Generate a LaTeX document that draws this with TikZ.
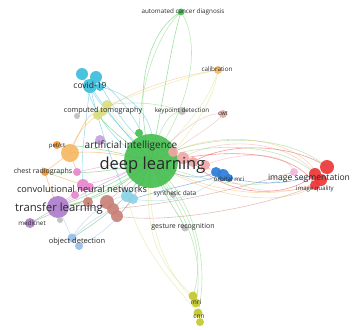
\documentclass[tikz,border=0pt]{standalone}
\usepackage{fontspec}
\setmainfont{Open Sans}
\definecolor{txt}{RGB}{40,40,40}
\definecolor{cG}{RGB}{70,190,80}
\definecolor{cGl}{RGB}{130,210,120}
\definecolor{cC}{RGB}{60,190,220}
\definecolor{cCl}{RGB}{140,210,232}
\definecolor{cY}{RGB}{218,222,130}
\definecolor{cO}{RGB}{245,150,50}
\definecolor{cOl}{RGB}{245,185,100}
\definecolor{cP}{RGB}{232,135,205}
\definecolor{cV}{RGB}{175,125,205}
\definecolor{cLB}{RGB}{150,190,235}
\definecolor{cBr}{RGB}{200,130,120}
\definecolor{cR}{RGB}{235,55,55}
\definecolor{cRl}{RGB}{242,165,165}
\definecolor{cB}{RGB}{45,125,215}
\definecolor{cGr}{RGB}{190,190,190}
\definecolor{cOl2}{RGB}{195,200,45}
\definecolor{cCw}{RGB}{225,170,160}
\begin{document}
\begin{tikzpicture}[x=1pt,y=-1pt,
  blob/.style={circle,fill=#1,inner sep=0pt,draw=none,opacity=0.92},
  lbl/.style={text=txt,inner sep=0pt,font=\fontsize{#1}{#1}\selectfont},
  e/.style={line width=0.6pt,opacity=0.5,draw=#1}]
\useasboundingbox (0,0) rectangle (352,329);
% centres
\coordinate (dl) at (151,161);
\coordinate (dlS) at (139,133);
\coordinate (ai) at (100,140);
\coordinate (cov1) at (82,74);
\coordinate (cov2) at (96,77);
\coordinate (cov3) at (90,86);
\coordinate (cov4) at (100,87);
\coordinate (ct1) at (107,105);
\coordinate (ct2) at (98,115);
\coordinate (ct3) at (103,112);
\coordinate (gy1) at (77,116);
\coordinate (kp) at (182,111);
\coordinate (cal) at (218,70);
\coordinate (cwt) at (223,114);
\coordinate (acd) at (181,12);
\coordinate (pet) at (57,145);
\coordinate (orb) at (70,153);
\coordinate (chest) at (45,172);
\coordinate (pk1) at (77,172);
\coordinate (pk2) at (83,185);
\coordinate (pk3) at (75,195);
\coordinate (pk4) at (90,187);
\coordinate (tl) at (58,207);
\coordinate (gy2) at (60,220);
\coordinate (med) at (30,223);
\coordinate (od1) at (72,238);
\coordinate (od2) at (79,246);
\coordinate (br1) at (88,202);
\coordinate (br2) at (107,202);
\coordinate (br3) at (113,209);
\coordinate (br4) at (117,216);
\coordinate (lb1) at (127,196);
\coordinate (lb2) at (133,199);
\coordinate (rp1) at (173,152);
\coordinate (rp2) at (183,158);
\coordinate (rp3) at (193,162);
\coordinate (rp4) at (205,165);
\coordinate (ob1) at (216,172);
\coordinate (ob2) at (223,175);
\coordinate (ob3) at (229,178);
\coordinate (sg1) at (327,167);
\coordinate (sg2) at (315,174);
\coordinate (sg3) at (321,180);
\coordinate (sg4) at (315,185);
\coordinate (sgp) at (294,172);
\coordinate (syn) at (173,195);
\coordinate (ges) at (185,228);
\coordinate (m1) at (193,296);
\coordinate (m2) at (196,303);
\coordinate (c1) at (198,313);
\coordinate (c2) at (200,322);
% edges
\draw[e=cG] (dl) .. controls (132,90) and (148,30) .. (acd);
\draw[e=cG] (dl) .. controls (165,90) and (172,40) .. (acd);
\draw[e=cGl] (dl) .. controls (195,100) and (200,40) .. (acd);
\draw[e=cGl] (dlS) .. controls (140,80) and (160,30) .. (acd);
\draw[e=cY] (dl) .. controls (190,125) and (212,95) .. (cal);
\draw[e=cY] (rp1) .. controls (200,120) and (215,95) .. (cal);
\draw[e=cY] (ct1) .. controls (150,90) and (190,75) .. (cal);
\draw[e=cCw] (rp1) .. controls (195,135) and (215,125) .. (cwt);
\draw[e=cCw] (dl) .. controls (190,120) and (210,112) .. (cwt);
\draw[e=cGl] (dl) .. controls (160,125) and (170,112) .. (kp);
\draw[e=cGl] (ct1) .. controls (140,100) and (165,105) .. (kp);
\draw[e=cC] (cov3) .. controls (110,115) and (130,140) .. (dl);
\draw[e=cC] (cov2) .. controls (125,100) and (145,130) .. (dl);
\draw[e=cC] (cov4) .. controls (140,95) and (160,130) .. (dl);
\draw[e=cC] (cov1) .. controls (95,120) and (120,150) .. (dl);
\draw[e=cC] (cov1) .. controls (100,110) and (130,135) .. (dl);
\draw[e=cC] (cov3) .. controls (100,130) and (115,170) .. (lb1);
\draw[e=cC] (cov2) .. controls (120,120) and (140,150) .. (rp1);
\draw[e=cC] (cov3) .. controls (85,130) and (80,160) .. (pk2);
\draw[e=cG] (ct2) .. controls (110,130) and (130,145) .. (dl);
\draw[e=cY] (ct1) .. controls (120,125) and (135,140) .. (dl);
\draw[e=cOl] (orb) .. controls (80,110) and (150,80) .. (cal);
\draw[e=cO] (orb) -- (pet);
\draw[e=cO] (orb) -- (chest);
\draw[e=cO] (orb) -- (pk1);
\draw[e=cO] (orb) .. controls (100,150) and (120,155) .. (dl);
\draw[e=cO] (chest) -- (pk2);
\draw[e=cO] (chest) .. controls (50,190) and (55,200) .. (tl);
\draw[e=cO] (orb) .. controls (85,120) and (90,110) .. (ct2);
\draw[e=cG] (dl) .. controls (110,150) and (80,145) .. (pet);
\draw[e=cG] (dl) .. controls (120,170) and (90,175) .. (chest);
\draw[e=cG] (dl) .. controls (120,180) and (90,195) .. (tl);
\draw[e=cG] (dl) .. controls (125,185) and (100,200) .. (tl);
\draw[e=cG] (dl) .. controls (130,200) and (100,220) .. (od1);
\draw[e=cG] (dl) .. controls (120,190) and (70,205) .. (med);
\draw[e=cP] (pk2) .. controls (110,180) and (130,170) .. (dl);
\draw[e=cP] (pk1) .. controls (110,165) and (130,160) .. (dl);
\draw[e=cP] (pk2) -- (tl);
\draw[e=cP] (pk3) -- (tl);
\draw[e=cP] (pk2) -- (br1);
\draw[e=cV] (tl) -- (med);
\draw[e=cV] (tl) -- (gy2);
\draw[e=cV] (tl) .. controls (90,215) and (110,200) .. (br2);
\draw[e=cV] (tl) .. controls (90,190) and (120,175) .. (dl);
\draw[e=cLB] (od1) .. controls (90,220) and (110,210) .. (br3);
\draw[e=cLB] (od1) .. controls (85,215) and (115,195) .. (lb1);
\draw[e=cLB] (od1) -- (tl);
\draw[e=cLB] (od2) .. controls (110,230) and (130,210) .. (dl);
\draw[e=cBr] (br2) .. controls (120,190) and (135,180) .. (dl);
\draw[e=cBr] (br4) .. controls (130,205) and (140,190) .. (dl);
\draw[e=cBr] (br1) -- (tl);
\draw[e=cBr] (br3) .. controls (150,205) and (200,200) .. (sgp);
\draw[e=cCl] (lb1) -- (dl);
\draw[e=cCl] (lb2) .. controls (170,205) and (200,195) .. (ob2);
\draw[e=cB] (dl) .. controls (180,180) and (200,180) .. (ob1);
\draw[e=cB] (ob2) .. controls (190,185) and (160,190) .. (lb2);
% image segmentation arcs
\draw[e=cRl] (rp2) .. controls (220,135) and (290,140) .. (sg2);
\draw[e=cR] (rp3) .. controls (230,140) and (295,145) .. (sg1);
\draw[e=cOl] (rp1) .. controls (220,130) and (300,135) .. (sg3);
\draw[e=cGl] (dl) .. controls (210,130) and (290,135) .. (sg1);
\draw[e=cGl] (dl) .. controls (215,138) and (285,145) .. (sg2);
\draw[e=cRl] (rp4) .. controls (250,148) and (290,155) .. (sgp);
\draw[e=cR] (rp2) .. controls (230,150) and (295,150) .. (sg4);
\draw[e=cOl] (dl) .. controls (220,205) and (290,205) .. (sg4);
\draw[e=cOl] (dl) .. controls (215,198) and (285,200) .. (sg3);
\draw[e=cR] (rp3) .. controls (230,200) and (290,198) .. (sg2);
\draw[e=cRl] (rp4) .. controls (240,195) and (285,195) .. (sg4);
\draw[e=cGl] (dl) .. controls (220,190) and (280,190) .. (sgp);
\draw[e=cBr] (br4) .. controls (170,225) and (270,205) .. (sg4);
\draw[e=cB] (ob3) .. controls (260,185) and (290,185) .. (sg2);
% lower
\draw[e=cG] (dl) .. controls (165,200) and (180,215) .. (ges);
\draw[e=cG] (dl) .. controls (160,185) and (170,195) .. (syn);
\draw[e=cGl] (dl) .. controls (180,200) and (210,240) .. (m1);
\draw[e=cGl] (dl) .. controls (195,200) and (210,260) .. (c1);
\draw[e=cY] (dl) .. controls (140,240) and (165,270) .. (m1);
\draw[e=cY] (dl) .. controls (145,245) and (175,280) .. (m2);
\draw[e=cY] (lb1) .. controls (140,250) and (175,285) .. (c1);
\draw[e=cGl] (dl) .. controls (185,215) and (205,250) .. (m2);
% nodes
\node[blob=cG,minimum size=54] (dlc) at (dl) {};
\node[blob=cG,minimum size=8] (dlsc) at (dlS) {};
\node[blob=cV!70,minimum size=10] (aic) at (ai) {};
\node[blob=cC,minimum size=12] (cov1c) at (cov1) {};
\node[blob=cC,minimum size=12] (cov2c) at (cov2) {};
\node[blob=cC,minimum size=14] (cov3c) at (cov3) {};
\node[blob=cC,minimum size=8] (cov4c) at (cov4) {};
\node[blob=cY,minimum size=10] (ct1c) at (ct1) {};
\node[blob=cY,minimum size=10] (ct2c) at (ct2) {};
\node[blob=cY,minimum size=8] (ct3c) at (ct3) {};
\node[blob=cGr,minimum size=6] (gy1c) at (gy1) {};
\node[blob=cGr,minimum size=8] (kpc) at (kp) {};
\node[blob=cOl,minimum size=8] (calc) at (cal) {};
\node[blob=cCw,minimum size=8] (cwtc) at (cwt) {};
\node[blob=cG,minimum size=7] (acdc) at (acd) {};
\node[blob=cO,minimum size=8] (petc) at (pet) {};
\node[blob=cOl,minimum size=18] (orbc) at (orb) {};
\node[blob=cO,minimum size=8] (chestc) at (chest) {};
\node[blob=cP,minimum size=8] (pk1c) at (pk1) {};
\node[blob=cP,minimum size=12] (pk2c) at (pk2) {};
\node[blob=cP,minimum size=8] (pk3c) at (pk3) {};
\node[blob=cP,minimum size=8] (pk4c) at (pk4) {};
\node[blob=cV,minimum size=22] (tlc) at (tl) {};
\node[blob=cGr,minimum size=6] (gy2c) at (gy2) {};
\node[blob=cV,minimum size=10] (medc) at (med) {};
\node[blob=cLB,minimum size=9] (od1c) at (od1) {};
\node[blob=cLB,minimum size=8] (od2c) at (od2) {};
\node[blob=cBr,minimum size=10] (br1c) at (br1) {};
\node[blob=cBr,minimum size=14] (br2c) at (br2) {};
\node[blob=cBr,minimum size=12] (br3c) at (br3) {};
\node[blob=cBr,minimum size=12] (br4c) at (br4) {};
\node[blob=cCl,minimum size=12] (lb1c) at (lb1) {};
\node[blob=cCl,minimum size=10] (lb2c) at (lb2) {};
\node[blob=cRl,minimum size=10] (rp1c) at (rp1) {};
\node[blob=cRl,minimum size=12] (rp2c) at (rp2) {};
\node[blob=cRl,minimum size=10] (rp3c) at (rp3) {};
\node[blob=cRl,minimum size=10] (rp4c) at (rp4) {};
\node[blob=cB,minimum size=10] (ob1c) at (ob1) {};
\node[blob=cB,minimum size=12] (ob2c) at (ob2) {};
\node[blob=cB,minimum size=8] (ob3c) at (ob3) {};
\node[blob=cR,minimum size=14] (sg1c) at (sg1) {};
\node[blob=cR,minimum size=12] (sg2c) at (sg2) {};
\node[blob=cR,minimum size=12] (sg3c) at (sg3) {};
\node[blob=cR,minimum size=10] (sg4c) at (sg4) {};
\node[blob=cP!60,minimum size=8] (sgpc) at (sgp) {};
\node[blob=cGr,minimum size=6] (sync) at (syn) {};
\node[blob=cGr,minimum size=7] (gesc) at (ges) {};
\node[blob=cOl2,minimum size=9] (m1c) at (m1) {};
\node[blob=cOl2,minimum size=9] (m2c) at (m2) {};
\node[blob=cOl2,minimum size=9] (c1c) at (c1) {};
\node[blob=cOl2,minimum size=8] (c2c) at (c2) {};
% labels
\node[lbl=16.5] (Ldl) at (152.5,165) {deep learning};
\node[lbl=10] (Lai) at (131,146) {artificial intelligence};
\node[lbl=8.5] (Lcov) at (90,85) {covid-19};
\node[lbl=7.3] (Lct) at (103,111) {computed tomography};
\node[lbl=6.3] (Lkp) at (182,111) {keypoint detection};
\node[lbl=6.3] (Lcal) at (217,69) {calibration};
\node[lbl=6] (Lcwt) at (223,114) {cwt};
\node[lbl=6.3] (Lacd) at (183,12) {automated cancer diagnosis};
\node[lbl=6] (Lpet) at (57,146) {pet/ct};
\node[lbl=7] (Lchest) at (43,172) {chest radiographs};
\node[lbl=9.2] (Lcnn) at (82,189) {convolutional neural networks};
\node[lbl=11.3] (Ltl) at (59,209) {transfer learning};
\node[lbl=6.3] (Lmed) at (32,223) {medicnet};
\node[lbl=7.5] (Lod) at (77,242) {object detection};
\node[lbl=6.5] (Lsyn) at (175,194) {synthetic data};
\node[lbl=6.2] (Lob) at (229,179) {orbital mri};
\node[lbl=8.6] (Lsg) at (309,178) {image segmentation};
\node[lbl=6] (Liq) at (315,189) {image quality};
\node[lbl=7] (Lges) at (183,227) {gesture recognition};
\node[lbl=6.5] (Lmri) at (196,302) {mri};
\node[lbl=6.5] (Lcn) at (199,317) {cnn};
\end{tikzpicture}
\end{document}
